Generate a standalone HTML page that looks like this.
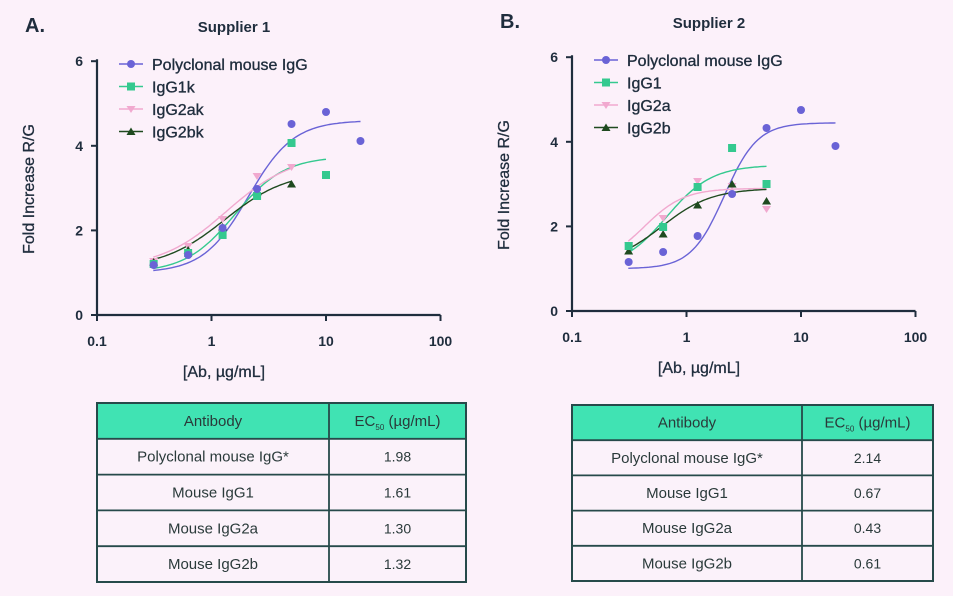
<!DOCTYPE html>
<html><head><meta charset="utf-8"><style>
body{margin:0;background:#fcf1fa;font-family:"Liberation Sans",sans-serif;}
svg{display:block}
</style></head><body>
<svg id="s" width="953" height="596" xmlns="http://www.w3.org/2000/svg" font-family="Liberation Sans, sans-serif">
<rect width="953" height="596" fill="#fcf1fa"/>
</svg>
<script>
const s=document.getElementById('s');let h='';
const C={p:'#6a63d6',g:'#34c98f',k:'#f1a9cf',d:'#1f4a1f'};
function chart(ox,oy,letter,title,leg,curves,pts){
 const X=v=>ox+114.5*(Math.log10(v)+1), Y=v=>oy-42.3*v;
 h+=`<text x="${ox-72}" y="${oy-283}" font-size="20" font-weight="bold" fill="#1f2d3d">${letter}</text>`;
 h+=`<text x="${ox+137}" y="${oy-283}" font-size="15" font-weight="bold" fill="#1f2d3d" text-anchor="middle">${title}</text>`;
 h+=`<path d="M${ox},${Y(6)-2}V${oy}H${X(100)}" stroke="#1f2d3d" stroke-width="2.2" fill="none"/>`;
 [0,2,4,6].forEach(v=>{h+=`<line x1="${ox-6}" x2="${ox}" y1="${Y(v)}" y2="${Y(v)}" stroke="#1f2d3d" stroke-width="2"/><text x="${ox-14}" y="${Y(v)+5}" font-size="14" font-weight="bold" text-anchor="end" fill="#1f2d3d">${v}</text>`});
 [0.1,1,10,100].forEach(v=>{h+=`<line x1="${X(v)}" x2="${X(v)}" y1="${oy}" y2="${oy+6}" stroke="#1f2d3d" stroke-width="2"/><text x="${X(v)}" y="${oy+31}" font-size="14" font-weight="bold" text-anchor="middle" fill="#1f2d3d">${v}</text>`});
 h+=`<text x="${ox+127}" y="${oy+62}" font-size="16" text-anchor="middle" fill="#1f2d3d" stroke="#1f2d3d" stroke-width="0.3">[Ab, µg/mL]</text>`;
 h+=`<text transform="translate(${ox-63},${oy-126}) rotate(-90)" font-size="16" text-anchor="middle" fill="#1f2d3d" stroke="#1f2d3d" stroke-width="0.3">Fold Increase R/G</text>`;
 curves.forEach(c=>{let d='';for(let i=0;i<=80;i++){const x=Math.pow(10,Math.log10(0.31)+i/80*(Math.log10(c.e)-Math.log10(0.31)));const y=c.b+(c.t-c.b)/(1+Math.pow(c.ec/x,c.hh));d+=(i?'L':'M')+X(x).toFixed(1)+','+Y(y).toFixed(1);}h+=`<path d="${d}" stroke="${C[c.c]}" stroke-width="1.4" fill="none"/>`});
 const xs=[0.3125,0.625,1.25,2.5,5,10,20];
 function mk(c,x,y){if(c=='p')return `<circle cx="${x}" cy="${y}" r="4" fill="${C.p}"/>`;if(c=='g')return `<rect x="${x-4}" y="${y-4}" width="8" height="8" fill="${C.g}"/>`;if(c=='k')return `<path d="M${x-4.5},${y-3}H${x+4.5}L${x},${y+4}Z" fill="${C.k}"/>`;return `<path d="M${x-4.5},${y+3.5}H${x+4.5}L${x},${y-4}Z" fill="${C.d}"/>`;}
 ['k','d','g','p'].forEach(c=>pts[c].forEach((y,i)=>{h+=mk(c,X(xs[i]),y)}));
 leg.forEach((t,i)=>{const y=oy-251+22.5*i;const c=['p','g','k','d'][i];h+=`<line x1="${ox+22}" x2="${ox+46}" y1="${y}" y2="${y}" stroke="${C[c]}" stroke-width="1.4"/>`+mk(c,ox+34,y)+`<text x="${ox+55}" y="${y+6}" font-size="16" fill="#1f2d3d" stroke="#1f2d3d" stroke-width="0.35">${t}</text>`});
}
chart(97,315,'A.','Supplier 1',['Polyclonal mouse IgG','IgG1k','IgG2ak','IgG2bk'],
[{c:'p',b:1.0,t:4.6,ec:2.1,hh:2.2,e:20},{c:'g',b:1.0,t:3.75,ec:1.6,hh:2,e:10},{c:'k',b:1.1,t:3.8,ec:1.35,hh:1.5,e:5},{c:'d',b:1.1,t:3.4,ec:1.3,hh:1.6,e:5}],
{p:[265,255,228,189,124,112,141],g:[264,253,235,196,143,175],k:[261,246,219,176,167],d:[262,250,227,192,184]});
chart(572,311,'B.','Supplier 2',['Polyclonal mouse IgG','IgG1','IgG2a','IgG2b'],
[{c:'p',b:1.0,t:4.45,ec:2.14,hh:3,e:20},{c:'g',b:1.0,t:3.45,ec:0.67,hh:2.2,e:5},{c:'k',b:1.1,t:2.9,ec:0.43,hh:2.5,e:5},{c:'d',b:1.1,t:2.9,ec:0.61,hh:2,e:5}],
{p:[262,252,236,194,128,110,146],g:[246,227,187,148,184],k:[245,218,181,186,209],d:[251,234,205,184,201]});
function table(x0,y0,w,split,rh,rows){
 const W=w,H=rh*5;
 h+=`<rect x="${x0}" y="${y0}" width="${W}" height="${rh}" fill="#40e3b3"/><rect x="${x0}" y="${y0+rh}" width="${W}" height="${rh*4}" fill="#fbf2fa"/>`;
 h+=`<rect x="${x0}" y="${y0}" width="${W}" height="${H}" fill="none" stroke="#264a4a" stroke-width="2"/>`;
 for(let i=1;i<5;i++)h+=`<line x1="${x0}" x2="${x0+W}" y1="${y0+rh*i}" y2="${y0+rh*i}" stroke="#264a4a" stroke-width="1.8"/>`;
 h+=`<line x1="${split}" x2="${split}" y1="${y0}" y2="${y0+H}" stroke="#264a4a" stroke-width="1.8"/>`;
 rows.forEach((r,i)=>{const y=y0+rh*i+rh/2+5;const fs=15;
  h+=`<text x="${(x0+split)/2}" y="${y}" font-size="${fs}" text-anchor="middle" fill="#2a3a3a">${r[0]}</text>`;
  h+=`<text x="${(split+x0+W)/2}" y="${y}" font-size="${i?14:15}" text-anchor="middle" fill="#2a3a3a">${r[1]}</text>`;});
}
const E='EC<tspan font-size="8" dy="4">50</tspan><tspan dy="-4"> (µg/mL)</tspan>';
table(97,403,369,329,35.8,[['Antibody',E],['Polyclonal mouse IgG*','1.98'],['Mouse IgG1','1.61'],['Mouse IgG2a','1.30'],['Mouse IgG2b','1.32']]);
table(572,405,361,802,35.2,[['Antibody',E],['Polyclonal mouse IgG*','2.14'],['Mouse IgG1','0.67'],['Mouse IgG2a','0.43'],['Mouse IgG2b','0.61']]);
s.innerHTML+=h;
</script>
</body></html>
